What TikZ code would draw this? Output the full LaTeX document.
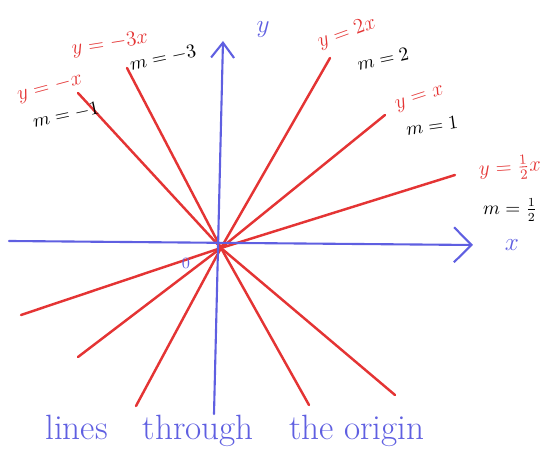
\documentclass[tikz,border=0pt]{standalone}
\usepackage{amsmath}
\usepackage{tikz}
\usetikzlibrary{arrows.meta}
\definecolor{penred}{RGB}{228,52,52}
\definecolor{penblue}{RGB}{95,95,225}

\begin{document}
\begin{tikzpicture}[
        axis/.style={draw=penblue, line width=1.2pt, line cap=round},
        redline/.style={draw=penred, line width=1.4pt, line cap=round},
        eqn/.style={text=penred, font=\fontsize{12}{14}\selectfont, inner sep=0pt},
        slope/.style={text=black, font=\fontsize{10.5}{12}\selectfont, inner sep=0pt},
        axlabel/.style={text=penblue, font=\fontsize{15}{18}\selectfont, inner sep=1pt}
    ]
        \useasboundingbox (0,0) rectangle (11.10,-9.28);
        % Ejes y origen
        \coordinate (O) at (4.42,-4.96);
        \coordinate (XL) at (0.18,-4.82);
        \coordinate (XR) at (9.46,-4.90);
        \coordinate (YB) at (4.28,-8.28);
        \coordinate (YT) at (4.46,-0.82);
        % Extremos de las rectas
        \coordinate (A1) at (1.56,-1.86); \coordinate (B1) at (7.90,-7.90); % y=-x
        \coordinate (A2) at (2.54,-1.36); \coordinate (B2) at (6.18,-8.10); % y=-3x
        \coordinate (A3) at (6.60,-1.16); \coordinate (B3) at (2.72,-8.12); % y=2x
        \coordinate (A4) at (7.70,-2.30); \coordinate (B4) at (1.56,-7.14); % y=x
        \coordinate (A5) at (9.10,-3.50); \coordinate (B5) at (0.42,-6.30); % y=x/2
        % Rectas por el origen
        \draw[redline] (A1) -- (O) -- (B1);
        \draw[redline] (A2) -- (O) -- (B2);
        \draw[redline] (A3) -- (O) -- (B3);
        \draw[redline] (A4) -- (O) -- (B4);
        \draw[redline] (A5) -- (O) -- (B5);
        \draw[axis, -{Straight Barb[length=3.5mm,width=7mm]}] (XL) -- (XR);
        \draw[axis, -{Straight Barb[length=3mm,width=4.6mm]}] (YB) -- (YT);
        % Etiquetas
        \node[axlabel] (xlab) at (10.24,-4.90) {$x$};
        \node[axlabel] (ylab) at (5.26,-0.60) {$y$};
        \node[text=penblue, font=\small] (zero) at (3.72,-5.26) {$0$};
        \node[eqn, rotate=15] (E1) at (1.00,-1.76) {$y=-x$};
        \node[slope, rotate=12] (M1) at (1.32,-2.30) {$m=-1$};
        \node[eqn, rotate=9] (E2) at (2.20,-0.88) {$y=-3x$};
        \node[slope, rotate=12] (M2) at (3.26,-1.16) {$m=-3$};
        \node[eqn, rotate=20] (E3) at (6.94,-0.66) {$y=2x$};
        \node[slope, rotate=12] (M3) at (7.66,-1.18) {$m=2$};
        \node[eqn, rotate=18] (E4) at (8.40,-1.98) {$y=x$};
        \node[slope, rotate=8] (M4) at (8.64,-2.52) {$m=1$};
        \node[eqn, rotate=4] (E5) at (10.20,-3.36) {$y=\frac{1}{2}x$};
        \node[slope] (M5) at (10.20,-4.20) {$m=\frac{1}{2}$};
        \node[text=penblue, font=\fontsize{20}{24}\selectfont, anchor=base] (title) at (4.70,-8.80) {lines\quad through\quad the origin};
    \end{tikzpicture}
\end{document}
